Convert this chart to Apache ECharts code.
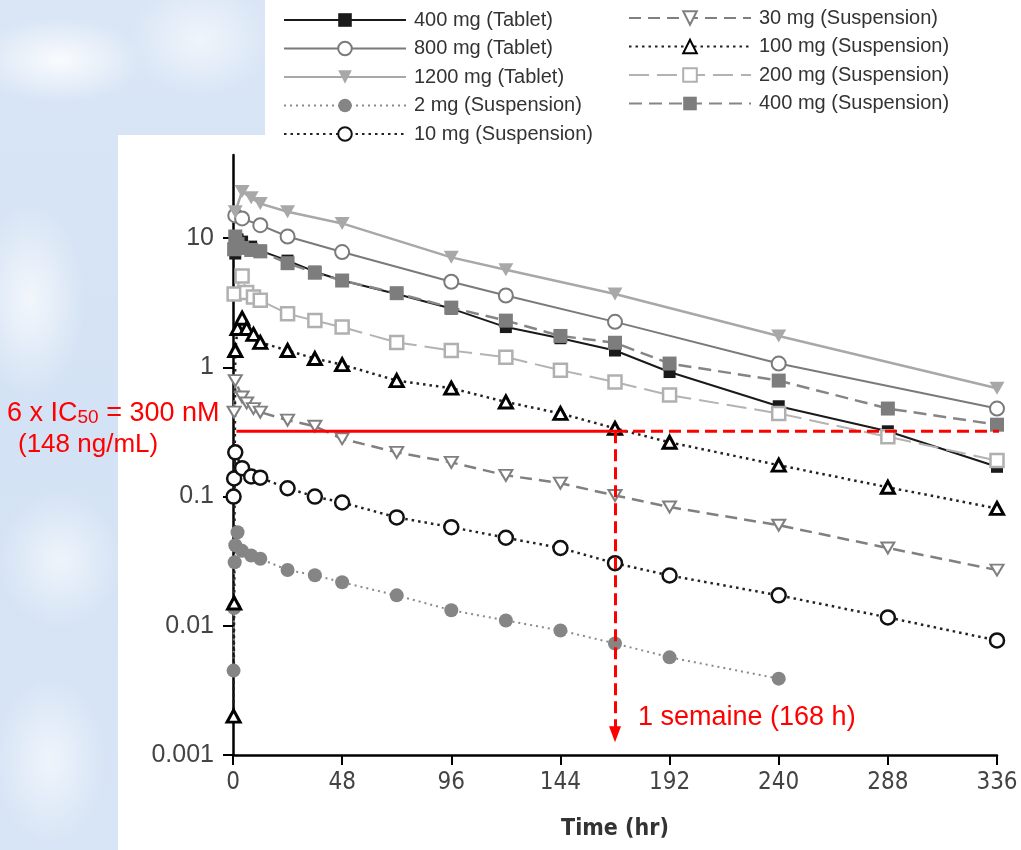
<!DOCTYPE html>
<html>
<head>
<meta charset="utf-8">
<script src="https://cdn.jsdelivr.net/npm/echarts@6/dist/echarts.min.js"></script>
<style>
  html, body { margin: 0; padding: 0; }
  #chart {
    width: 1021px;
    height: 850px;
    background:
      radial-gradient(ellipse 120px 60px at 60px 60px, rgba(255,255,255,0.85), rgba(255,255,255,0) 70%),
      radial-gradient(ellipse 80px 140px at 30px 300px, rgba(255,255,255,0.7), rgba(255,255,255,0) 70%),
      radial-gradient(ellipse 100px 80px at 200px 40px, rgba(255,255,255,0.6), rgba(255,255,255,0) 70%),
      radial-gradient(ellipse 90px 100px at 60px 560px, rgba(255,255,255,0.6), rgba(255,255,255,0) 70%),
      radial-gradient(ellipse 80px 120px at 50px 760px, rgba(255,255,255,0.6), rgba(255,255,255,0) 70%),
      linear-gradient(180deg, #dae6f6 0%, #d3e2f4 50%, #d8e5f6 100%);
  }
</style>
</head>
<body>
<div id="chart"></div>
<script>
// temps (h) et concentrations (µg/mL)
const tab400Time = [1, 2, 4, 8, 12, 24, 36, 48, 72, 96, 120, 144, 168, 192, 240, 288, 336];
const tab400Conc = [7.6, 9.8, 9.4, 8.6, 8.0, 6.7, 5.5, 4.7, 3.7, 2.85, 2.05, 1.68, 1.35, 0.92, 0.50, 0.32, 0.17];

const tab800Time = [1, 4, 12, 24, 48, 96, 120, 168, 240, 336];
const tab800Conc = [15, 14.2, 12.6, 10.3, 7.8, 4.6, 3.6, 2.25, 1.07, 0.48];

const tab1200Time = [1, 4, 8, 12, 24, 48, 96, 120, 168, 240, 336];
const tab1200Conc = [16, 23, 20.5, 18.5, 16, 13, 7.1, 5.7, 3.7, 1.75, 0.69];

const sus2Time = [0.25, 0.5, 0.75, 1, 2, 4, 8, 12, 24, 36, 48, 72, 96, 120, 144, 168, 192, 240];
const sus2Conc = [0.0045, 0.0137, 0.031, 0.042, 0.053, 0.038, 0.035, 0.033, 0.027, 0.0246, 0.0217, 0.0172, 0.0132, 0.011, 0.0092, 0.0073, 0.0057, 0.0039];

const sus10Time = [0.25, 0.5, 1, 4, 8, 12, 24, 36, 48, 72, 96, 120, 144, 168, 192, 240, 288, 336];
const sus10Conc = [0.1, 0.138, 0.22, 0.166, 0.143, 0.14, 0.116, 0.1, 0.09, 0.069, 0.058, 0.048, 0.04, 0.0305, 0.0245, 0.0172, 0.0116, 0.0077];

const sus30Time = [0.5, 1, 4, 6, 9, 12, 24, 36, 48, 72, 96, 120, 144, 168, 192, 240, 288, 336];
const sus30Conc = [0.45, 0.79, 0.59, 0.53, 0.48, 0.45, 0.39, 0.35, 0.28, 0.22, 0.184, 0.146, 0.127, 0.102, 0.083, 0.06, 0.04, 0.027];

const sus100Time = [0.25, 0.5, 1, 2, 4, 6, 9, 12, 24, 36, 48, 72, 96, 120, 144, 168, 192, 240, 288, 336];
const sus100Conc = [0.002, 0.015, 1.35, 2.0, 2.4, 2.0, 1.8, 1.56, 1.35, 1.17, 1.05, 0.79, 0.69, 0.54, 0.44, 0.337, 0.263, 0.175, 0.118, 0.081];

const sus200Time = [0.5, 4, 6, 9, 12, 24, 36, 48, 72, 96, 120, 144, 168, 192, 240, 288, 336];
const sus200Conc = [3.7, 5.1, 3.8, 3.5, 3.3, 2.6, 2.3, 2.05, 1.56, 1.35, 1.2, 0.95, 0.77, 0.61, 0.44, 0.29, 0.19];

const sus400Time = [0.5, 1, 2, 4, 8, 12, 24, 36, 48, 72, 96, 120, 144, 168, 192, 240, 288, 336];
const sus400Conc = [8.2, 10.3, 9.0, 8.4, 8.1, 7.9, 6.4, 5.4, 4.7, 3.75, 2.9, 2.3, 1.75, 1.55, 1.07, 0.79, 0.48, 0.36];

const yTicks = [0.001, 0.01, 0.1, 1, 10];
const threshold = 0.32;   // 6 x IC50
const weekHour = 168;
const arrowEnd = 0.00145;

function pairs(t, c) {
  return t.map((x, i) => [x, c[i]]);
}

const downTri = 'path://M0,0L10,0L5,9Z';
const font = 'Liberation Sans, Arial, sans-serif';
const narrow = 'Liberation Sans Narrow, DejaVu Sans Condensed, sans-serif';

function mkSeries(name, t, c, symbol, size, itemStyle, lineStyle) {
  return {
    name: name,
    type: 'line',
    data: pairs(t, c),
    symbol: symbol,
    symbolSize: size,
    showAllSymbol: true,
    itemStyle: itemStyle,
    lineStyle: lineStyle,
    emphasis: { disabled: true },
    z: 3
  };
}

const myChart = echarts.init(document.getElementById('chart'));

const legendText = { fontSize: 20, fontFamily: font, color: '#333', padding: [0, 0, 0, 3] };

const option = {
  animation: false,
  graphic: [
    { type: 'rect', shape: { x: 118, y: 135, width: 903, height: 715 }, style: { fill: '#fff' }, z: -10, silent: true },
    { type: 'rect', shape: { x: 265, y: 0, width: 756, height: 135 }, style: { fill: '#fff' }, z: -10, silent: true },
    {
      type: 'text', x: 7, y: 411, silent: true, z: 10,
      style: {
        text: '{n|6 x IC}{s|50}{n| = 300 nM}',
        verticalAlign: 'middle',
        fill: '#ff0000',
        rich: {
          n: { fontSize: 27, fontFamily: font, lineHeight: 32, verticalAlign: 'bottom', fill: '#ff0000' },
          s: { fontSize: 19, fontFamily: font, lineHeight: 17, verticalAlign: 'bottom', fill: '#ff0000' }
        }
      }
    },
    {
      type: 'text', x: 18, y: 445, silent: true, z: 10,
      style: { text: '(148 ng/mL)', font: '26px ' + font, fill: '#ff0000', verticalAlign: 'middle' }
    },
    {
      type: 'text', x: 638, y: 718, silent: true, z: 10,
      style: { text: '1 semaine (168 h)', font: '27px ' + font, fill: '#ff0000', verticalAlign: 'middle' }
    }
  ],
  legend: [
    {
      data: ['400 mg (Tablet)', '800 mg (Tablet)', '1200 mg (Tablet)', '2 mg (Suspension)', '10 mg (Suspension)'],
      orient: 'vertical',
      left: 283,
      top: 10,
      padding: 0,
      itemWidth: 122,
      itemHeight: 17,
      itemGap: 8.5,
      selectedMode: false,
      textStyle: legendText
    },
    {
      data: ['30 mg (Suspension)', '100 mg (Suspension)', '200 mg (Suspension)', '400 mg (Suspension)'],
      orient: 'vertical',
      left: 628,
      top: 8,
      padding: 0,
      itemWidth: 122,
      itemHeight: 17,
      itemGap: 8.5,
      selectedMode: false,
      textStyle: legendText
    }
  ],
  grid: { left: 233, right: 24, top: 155, bottom: 95, containLabel: false },
  xAxis: {
    type: 'value',
    min: 0,
    max: 336,
    interval: 48,
    name: 'Time (hr)',
    nameLocation: 'middle',
    nameGap: 63,
    nameTextStyle: { fontSize: 23, fontWeight: 'bold', fontFamily: narrow, color: '#333' },
    axisLine: { onZero: false, lineStyle: { color: '#000', width: 2.5 } },
    axisTick: { length: 10, lineStyle: { color: '#000', width: 2 } },
    axisLabel: { fontSize: 24, fontFamily: narrow, color: '#444', margin: 16 },
    splitLine: { show: false }
  },
  yAxis: {
    type: 'log',
    logBase: 10,
    min: 0.001,
    max: 44,
    axisLine: { show: true, lineStyle: { color: '#000', width: 2.5 } },
    axisTick: { show: true, length: 10, lineStyle: { color: '#000', width: 2 }, customValues: yTicks },
    axisLabel: { customValues: yTicks, fontSize: 25, fontFamily: font, color: '#444', margin: 19,
      formatter: function (v) { return String(v); } },
    splitLine: { show: false },
    minorTick: { show: false }
  },
  series: [
    mkSeries('400 mg (Tablet)', tab400Time, tab400Conc, 'rect', 12,
      { color: '#1a1a1a' }, { color: '#1a1a1a', width: 2 }),
    mkSeries('800 mg (Tablet)', tab800Time, tab800Conc, 'circle', 14,
      { color: '#fff', borderColor: '#7a7a7a', borderWidth: 2 }, { color: '#7a7a7a', width: 2 }),
    mkSeries('1200 mg (Tablet)', tab1200Time, tab1200Conc, downTri, [15, 13],
      { color: '#a8a8a8' }, { color: '#a8a8a8', width: 2.5 }),
    mkSeries('2 mg (Suspension)', sus2Time, sus2Conc, 'circle', 14,
      { color: '#858585' }, { color: '#8a8a8a', width: 2, type: [2, 4] }),
    mkSeries('10 mg (Suspension)', sus10Time, sus10Conc, 'circle', 14,
      { color: '#fff', borderColor: '#111', borderWidth: 2.5 }, { color: '#222', width: 2.5, type: [2.5, 4] }),
    mkSeries('30 mg (Suspension)', sus30Time, sus30Conc, downTri, [13, 11],
      { color: '#fff', borderColor: '#808080', borderWidth: 2 }, { color: '#808080', width: 2.5, type: [12, 7] }),
    mkSeries('100 mg (Suspension)', sus100Time, sus100Conc, 'triangle', [13, 12],
      { color: '#fff', borderColor: '#000', borderWidth: 3 }, { color: '#222', width: 2.5, type: [2.5, 4] }),
    mkSeries('200 mg (Suspension)', sus200Time, sus200Conc, 'rect', 13,
      { color: '#fff', borderColor: '#b0b0b0', borderWidth: 2.5 }, { color: '#b3b3b3', width: 2, type: [20, 8] }),
    mkSeries('400 mg (Suspension)', sus400Time, sus400Conc, 'rect', 14,
      { color: '#7d7d7d' }, { color: '#858585', width: 2.5, type: [13, 7] }),
    {
      name: 'seuil',
      type: 'line',
      data: [[1.5, threshold], [weekHour, threshold]],
      symbol: 'none',
      silent: true,
      lineStyle: { color: '#ff0000', width: 3 },
      z: 5
    },
    {
      name: 'seuil2',
      type: 'line',
      data: [[weekHour, threshold], [339, threshold]],
      symbol: 'none',
      silent: true,
      clip: false,
      lineStyle: { color: '#ff0000', width: 3, type: [12, 6] },
      z: 5,
      markLine: {
        silent: true,
        symbol: ['none', 'triangle'],
        symbolSize: [12, 16],
        label: { show: false },
        lineStyle: { color: '#ff0000', width: 3, type: [12, 6] },
        data: [[{ coord: [weekHour, threshold] }, { coord: [weekHour, arrowEnd] }]]
      }
    }
  ]
};

myChart.setOption(option);
</script>
</body>
</html>
